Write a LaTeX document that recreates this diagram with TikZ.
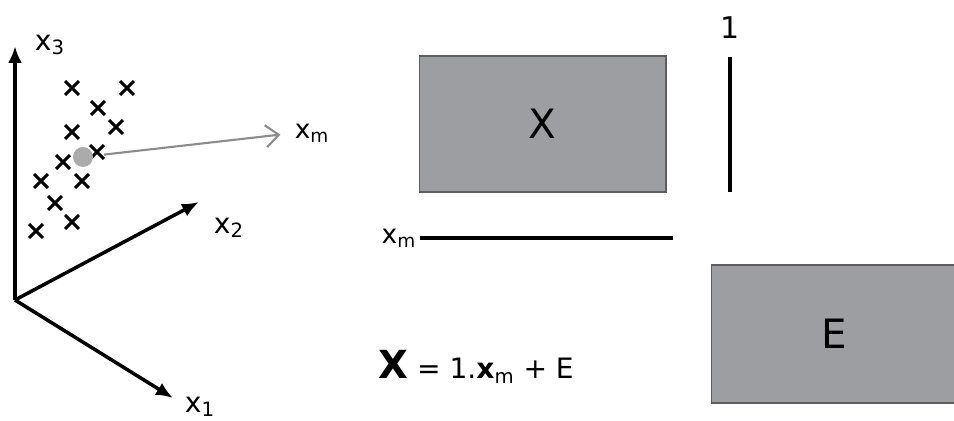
\documentclass[tikz,border=0pt]{standalone}
\usepackage{fontspec}
\setmainfont{DejaVu Sans}
\usepackage{tikz}
\usetikzlibrary{arrows.meta,positioning,shapes.misc}
\definecolor{boxgray}{HTML}{9C9EA1}
\definecolor{boxedge}{HTML}{5E5E60}
\definecolor{dotgray}{HTML}{ABABAB}
\definecolor{arrgray}{HTML}{8C8C8C}
\tikzset{
  axis/.style={-{Latex[length=3.4mm,width=2.8mm]},line width=2pt,draw=black},
  pt/.style={cross out,draw=black,line width=1.7pt,minimum size=0.22cm,
             inner sep=0pt},
  meanarr/.style={-{Straight Barb[length=2.6mm,width=4.4mm]},line width=1.2pt,
                  draw=arrgray},
  axlabel/.style={font=\fontsize{16}{18}\selectfont,inner sep=0pt},
  smlabel/.style={font=\fontsize{15}{17}\selectfont,inner sep=0pt},
  matbox/.style={rectangle,draw=boxedge,fill=boxgray,line width=0.6pt,
                 font=\fontsize{23}{27}\selectfont,inner sep=0pt},
  vecline/.style={line width=2.6pt,draw=black}
}
\begin{document}
\begin{tikzpicture}[x=0.02cm,y=-0.02cm]
    \path[use as bounding box] (0,0) rectangle (954,421);

    % axes
    \coordinate (o) at (15,300);
    \coordinate (e3) at (15,46);
    \coordinate (e2) at (199,202);
    \coordinate (e1) at (173,398);
    \draw[axis] (o) -- (e3);
    \draw[axis] (o) -- (e2);
    \draw[axis] (o) -- (e1);
    \node[axlabel] (l3) at (50,45) {x\textsubscript{3}};
    \node[axlabel] (l2) at (229,228) {x\textsubscript{2}};
    \node[axlabel] (l1) at (200,407) {x\textsubscript{1}};

    % samples
    \foreach \px/\py [count=\i] in {72/88,127/88,98/108,116/127,72/132,
        97/152,63/162,41/181,82/181,55/203,72/222,36/231}
      \node[pt] (p\i) at (\px,\py) {};
    \node[circle,fill=dotgray,minimum size=0.4cm,inner sep=0pt] (m) at (83,157) {};
    \node[smlabel] (xm) at (312,133) {x\textsubscript{m}};
    \draw[meanarr,shorten <=12pt,shorten >=8pt] (m.center) -- (xm.west);

    % decomposition
    \node[matbox,minimum width=4.94cm,minimum height=2.72cm] (X) at (542.5,124) {X};
    \node[matbox,minimum width=4.9cm,minimum height=2.76cm] (E) at (834,334) {E};
    \coordinate (ot) at (730,57);
    \coordinate (ob) at (730,192);
    \draw[vecline] (ot) -- (ob);
    \node[font=\fontsize{17}{19}\selectfont,inner sep=0pt] (one) at (730,28) {1};
    \coordinate (ml) at (420,238);
    \coordinate (mr) at (673,238);
    \draw[vecline] (ml) -- (mr);
    \node[smlabel,left=2pt of ml] (xm2) {x\textsubscript{m}};

    \node[inner sep=0pt,anchor=west] (eq) at (378,367)
      {{\fontsize{22}{24}\selectfont\bfseries X}%
       {\fontsize{16}{18}\selectfont\ = 1.\textbf{x}\textsubscript{m} + E}};
\end{tikzpicture}
\end{document}
